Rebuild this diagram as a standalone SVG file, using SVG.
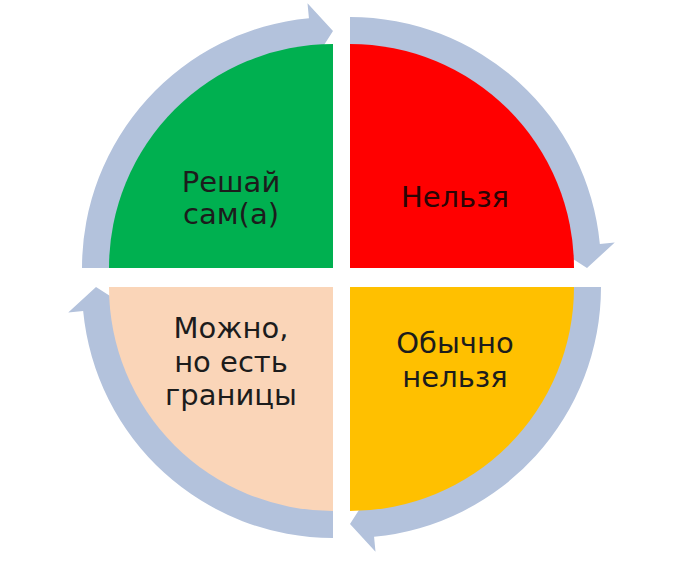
<svg xmlns="http://www.w3.org/2000/svg" xmlns:xlink="http://www.w3.org/1999/xlink" width="676" height="561" viewBox="0 0 676 561">
<style>
.lbl{font-family:"DejaVu Sans","Noto Sans",sans-serif;font-size:29px;fill:#1c1c1c;text-anchor:middle}
.ring{fill:#B3C2DC}
</style>
<defs>
<path id="arr" d="M-251,0 A251,251 0 0 1 -24.06,-249.85 L-25.5,-264.78 L0,-237 L-19.84,-206.05 L-21.37,-221.97 A223,223 0 0 0 -223,0 Z"/>
</defs>
<rect width="676" height="561" fill="#ffffff"/>
<g id="connectors" class="ring">
<use xlink:href="#arr" transform="translate(333,268)"/>
<use xlink:href="#arr" transform="translate(350,268) rotate(90)"/>
<use xlink:href="#arr" transform="translate(350,287) rotate(180)"/>
<use xlink:href="#arr" transform="translate(333,287) rotate(270)"/>
</g>
<g id="node-green">
<path d="M333,268 L109,268 A224,224 0 0 1 333,44 Z" fill="#00B050"/>
<text class="lbl" x="231" y="192">Решай</text>
<text class="lbl" x="231" y="224">сам(а)</text>
</g>
<g id="node-red">
<path d="M350,268 L350,44 A224,224 0 0 1 574,268 Z" fill="#FF0000"/>
<text class="lbl" x="455" y="207" style="fill:#2a0505">Нельзя</text>
</g>
<g id="node-yellow">
<path d="M350,287 L574,287 A224,224 0 0 1 350,511 Z" fill="#FFC000"/>
<text class="lbl" x="455" y="353">Обычно</text>
<text class="lbl" x="455" y="387">нельзя</text>
</g>
<g id="node-peach">
<path d="M333,287 L333,511 A224,224 0 0 1 109,287 Z" fill="#FAD5B8"/>
<text class="lbl" x="231" y="338">Можно,</text>
<text class="lbl" x="231" y="372">но есть</text>
<text class="lbl" x="231" y="405">границы</text>
</g>
</svg>
